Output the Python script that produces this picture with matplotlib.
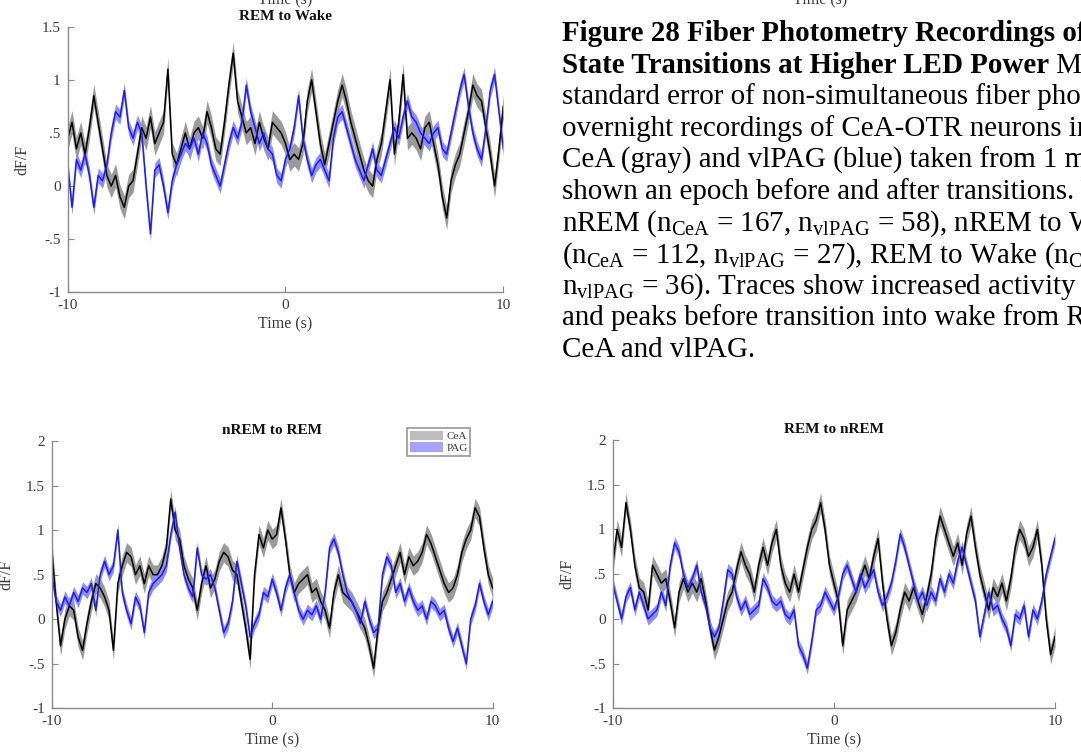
import matplotlib
matplotlib.use("Agg")
import matplotlib.pyplot as plt
import numpy as np
from matplotlib.patches import Patch
from matplotlib.text import Annotation

plt.rcParams['font.family'] = ['Liberation Serif', 'DejaVu Serif']
plt.rcParams['mathtext.fontset'] = 'custom'
plt.rcParams['mathtext.rm'] = 'Liberation Serif'

# time axis of the traces (s), one sample every 0.2 s
time_s = np.linspace(-10, 10, 101)

# REM to Wake
rem_wake_cea = [0.45, 0.6, 0.35, 0.5, 0.3, 0.55, 0.85, 0.6, 0.35, 0.1,
                0.0, 0.1, -0.1, -0.2, 0.0, 0.05, 0.3, 0.55, 0.45, 0.65,
                0.4, 0.5, 0.6, 1.1, 0.3, 0.2, 0.35, 0.5, 0.35, 0.5,
                0.55, 0.45, 0.7, 0.55, 0.35, 0.3, 0.6, 0.95, 1.25, 0.8,
                0.65, 0.5, 0.55, 0.4, 0.6, 0.45, 0.35, 0.6, 0.55, 0.5,
                0.4, 0.25, 0.3, 0.25, 0.4, 0.8, 1.0, 0.7, 0.4, 0.2,
                0.4, 0.6, 0.8, 0.95, 0.8, 0.6, 0.45, 0.3, 0.15, 0.05,
                0.0, 0.25, 0.4, 0.7, 1.0, 0.3, 0.6, 1.05, 0.45, 0.5,
                0.45, 0.35, 0.55, 0.6, 0.4, 0.2, -0.1, -0.3, 0.05, 0.2,
                0.3, 0.5, 0.7, 0.95, 0.85, 0.8, 0.55, 0.3, 0.0, 0.35,
                0.75]
rem_wake_pag = [0.2, -0.2, 0.25, 0.15, 0.3, 0.1, -0.2, 0.1, 0.05, 0.2,
                0.5, 0.7, 0.65, 0.9, 0.55, 0.45, 0.6, 0.5, 0.0, -0.45,
                0.15, 0.2, 0.0, -0.25, 0.05, 0.2, 0.3, 0.4, 0.35, 0.45,
                0.3, 0.5, 0.4, 0.2, 0.1, 0.0, 0.2, 0.4, 0.55, 0.45,
                0.6, 0.95, 0.7, 0.55, 0.4, 0.5, 0.35, 0.3, 0.1, 0.05,
                0.25, 0.35, 0.55, 0.85, 0.45, 0.25, 0.1, 0.2, 0.25, 0.15,
                0.05, 0.45, 0.65, 0.7, 0.55, 0.4, 0.25, 0.15, 0.05, 0.2,
                0.35, 0.15, 0.1, 0.25, 0.4, 0.55, 0.45, 0.65, 0.8, 0.65,
                0.6, 0.5, 0.45, 0.4, 0.5, 0.55, 0.35, 0.3, 0.5, 0.7,
                0.9, 1.05, 0.75, 0.5, 0.35, 0.25, 0.55, 0.9, 1.05, 0.7,
                0.35]

# nREM to REM
nrem_rem_cea = [0.8, 0.2, -0.3, 0.0, 0.15, 0.1, -0.2, -0.35, -0.05, 0.2,
                0.4, 0.35, 0.25, 0.1, -0.35, 0.4, 0.6, 0.75, 0.7, 0.5,
                0.6, 0.4, 0.6, 0.5, 0.5, 0.6, 0.8, 1.35, 1.0, 0.9,
                0.6, 0.45, 0.35, 0.1, 0.4, 0.6, 0.35, 0.45, 0.65, 0.75,
                0.7, 0.55, 0.5, 0.2, -0.1, -0.45, 0.5, 0.95, 0.8, 1.0,
                0.9, 0.95, 1.25, 0.9, 0.5, 0.3, 0.4, 0.45, 0.5, 0.3,
                0.35, 0.2, 0.1, -0.1, 0.3, 0.5, 0.3, 0.25, 0.2, 0.1,
                0.0, -0.1, -0.3, -0.55, -0.1, 0.2, 0.3, 0.45, 0.6, 0.75,
                0.5, 0.7, 0.6, 0.65, 0.75, 0.95, 0.85, 0.7, 0.55, 0.4,
                0.3, 0.35, 0.5, 0.75, 0.9, 1.0, 1.25, 1.15, 0.8, 0.5,
                0.35]
nrem_rem_pag = [0.5, 0.2, 0.1, 0.25, 0.15, 0.3, 0.2, 0.35, 0.3, 0.4,
                0.1, 0.5, 0.65, 0.5, 0.6, 1.0, 0.3, 0.1, -0.05, 0.25,
                0.15, -0.15, 0.3, 0.4, 0.45, 0.5, 0.6, 0.95, 1.2, 0.8,
                0.5, 0.35, 0.25, 0.8, 0.5, 0.45, 0.5, 0.35, 0.1, -0.15,
                -0.05, 0.2, 0.65, 0.4, 0.15, -0.2, -0.05, 0.05, 0.3, 0.25,
                0.45, 0.3, 0.1, 0.35, 0.5, 0.3, 0.1, 0.0, 0.1, 0.05,
                0.15, 0.0, 0.3, 0.8, 0.9, 0.75, 0.5, 0.3, 0.2, 0.1,
                -0.05, 0.2, 0.0, -0.15, -0.1, 0.5, 0.7, 0.6, 0.3, 0.4,
                0.2, 0.35, 0.2, 0.1, 0.15, 0.0, 0.2, 0.15, 0.05, 0.1,
                -0.1, -0.25, -0.1, -0.3, -0.5, 0.0, 0.15, 0.4, 0.2, 0.05,
                0.2]

# REM to nREM
rem_nrem_cea = [0.6, 1.0, 0.8, 1.3, 1.0, 0.6, 0.35, 0.3, 0.1, 0.6,
                0.5, 0.4, 0.45, 0.2, -0.1, 0.3, 0.45, 0.3, 0.4, 0.3,
                0.45, 0.2, -0.1, -0.35, -0.2, 0.0, 0.2, 0.3, 0.55, 0.75,
                0.6, 0.5, 0.3, 0.6, 0.8, 0.6, 0.85, 1.0, 0.6, 0.4,
                0.3, 0.5, 0.3, 0.55, 0.8, 1.0, 1.1, 1.3, 1.0, 0.6,
                0.4, 0.2, -0.3, 0.1, 0.2, 0.3, 0.45, 0.6, 0.45, 0.7,
                0.9, 0.4, 0.0, -0.3, -0.15, 0.1, 0.3, 0.2, 0.35, 0.2,
                0.05, 0.25, 0.5, 0.9, 1.15, 1.0, 0.85, 0.7, 0.85, 0.6,
                0.95, 1.15, 0.8, 0.5, 0.3, 0.1, 0.35, 0.25, 0.4, 0.2,
                0.45, 0.8, 1.0, 0.9, 0.7, 0.8, 1.0, 0.6, 0.0, -0.4,
                -0.2]
rem_nrem_pag = [0.4, 0.2, 0.0, 0.25, 0.35, 0.1, 0.3, 0.15, 0.0, 0.05,
                0.1, 0.3, 0.15, 0.6, 0.85, 0.75, 0.5, 0.35, 0.45, 0.6,
                0.3, 0.15, -0.1, -0.2, -0.1, 0.2, 0.55, 0.5, 0.25, 0.1,
                0.2, 0.05, 0.1, 0.15, 0.45, 0.35, 0.2, 0.15, 0.2, 0.05,
                0.0, 0.1, -0.3, -0.4, -0.55, -0.25, 0.1, 0.15, 0.3, 0.2,
                0.1, 0.25, 0.5, 0.6, 0.45, 0.3, 0.5, 0.35, 0.45, 0.55,
                0.3, 0.15, 0.25, 0.4, 0.65, 0.95, 0.8, 0.6, 0.4, 0.2,
                0.3, 0.15, 0.3, 0.2, 0.45, 0.3, 0.5, 0.4, 0.65, 0.8,
                0.6, 0.4, 0.2, -0.2, 0.05, 0.3, 0.1, 0.15, 0.0, -0.1,
                -0.3, 0.05, 0.0, 0.15, -0.2, 0.1, 0.0, 0.2, 0.5, 0.7,
                0.9]

# half width of the shaded standard error band
cea_sem = 0.11
pag_sem = 0.07

series_labels = ['CeA', 'PAG']

caption_lines = [
    'standard error of non-simultaneous fiber photometry',
    'overnight recordings of CeA-OTR neurons in',
    'CeA (gray) and vlPAG (blue) taken from 1 mouse',
    'shown an epoch before and after transitions. Wake to',
    r'nREM (n$_{\mathrm{CeA}}$ = 167, n$_{\mathrm{vlPAG}}$ = 58), nREM to Wake',
    r'(n$_{\mathrm{CeA}}$ = 112, n$_{\mathrm{vlPAG}}$ = 27), REM to Wake (n$_{\mathrm{CeA}}$',
    r'n$_{\mathrm{vlPAG}}$ = 36). Traces show increased activity in',
    'and peaks before transition into wake from REM in',
    'CeA and vlPAG.',
]

AX_COLOR = '#8a8a8a'
TXT_COLOR = '#3a3a3a'


def plot_transition(ax, title, cea, pag, ylim, yticks, yticklabels):
    cea = np.array(cea)
    pag = np.array(pag)
    ax.fill_between(time_s, cea - cea_sem, cea + cea_sem, color='#9a9a9a', lw=0)
    ax.plot(time_s, cea, color='black', lw=1.1)
    ax.fill_between(time_s, pag - pag_sem, pag + pag_sem, color='#8c8cff', lw=0)
    ax.plot(time_s, pag, color='#1e1ee6', lw=1.1)

    ax.set_xlim(-10, 10)
    ax.set_ylim(*ylim)
    ax.set_xticks([-10, 0, 10])
    ax.set_xticklabels(['-10', '0', '10'])
    ax.set_yticks(yticks)
    ax.set_yticklabels(yticklabels)
    for s in ['top', 'right']:
        ax.spines[s].set_visible(False)
    for s in ['left', 'bottom']:
        ax.spines[s].set_color(AX_COLOR)
        ax.spines[s].set_linewidth(1.0)
    ax.tick_params(direction='in', length=4, color=AX_COLOR, labelcolor=TXT_COLOR,
                   labelsize=11, pad=5)
    ax.set_xlabel('Time (s)', fontsize=11.5, color=TXT_COLOR, labelpad=3)
    ax.set_ylabel('dF/F', fontsize=11.5, color=TXT_COLOR, labelpad=8)
    ax.set_title(title, fontsize=11, fontweight='bold', color='#111111', pad=5)


fig = plt.figure(figsize=(10.81, 7.54), dpi=100)

ax1 = fig.add_axes([0.0626, 0.6123, 0.403, 0.3523])
plot_transition(ax1, 'REM to Wake', rem_wake_cea, rem_wake_pag, (-1, 1.5),
                [-1, -0.5, 0, 0.5, 1, 1.5], ['-1', '-.5', '0', '.5', '1', '1.5'])

ax2 = fig.add_axes([0.0478, 0.0606, 0.408, 0.3545])
plot_transition(ax2, 'nREM to REM', nrem_rem_cea, nrem_rem_pag, (-1, 2),
                [-1, -0.5, 0, 0.5, 1, 1.5, 2], ['-1', '-.5', '0', '.5', '1', '1.5', '2'])

ax3 = fig.add_axes([0.5668, 0.0606, 0.4092, 0.3558])
plot_transition(ax3, 'REM to nREM', rem_nrem_cea, rem_nrem_pag, (-1, 2),
                [-1, -0.5, 0, 0.5, 1, 1.5, 2], ['-1', '-.5', '0', '.5', '1', '1.5', '2'])

handles = [Patch(facecolor='#bdbdbd', edgecolor='none'),
           Patch(facecolor='#a4a4ff', edgecolor='none')]
leg = ax2.legend(handles, series_labels, loc='upper left',
                 bbox_to_anchor=(407 / 1081, 1 - 428 / 754), bbox_transform=fig.transFigure,
                 fontsize=8, fancybox=False, framealpha=1, handlelength=3.0,
                 handleheight=0.9, handletextpad=0.3, labelspacing=0.1,
                 borderpad=0.25, borderaxespad=0)
leg.get_frame().set_edgecolor('#a0a0a0')
leg.get_frame().set_linewidth(1.3)
for t in leg.get_texts():
    t.set_color(TXT_COLOR)

# x labels of the plots above, cut by the page edge
fig.text(285 / 1081, 1.0, 'Time (s)', ha='center', va='center', fontsize=11.5, color=TXT_COLOR)
fig.text(820 / 1081, 1.0, 'Time (s)', ha='center', va='center', fontsize=11.5, color=TXT_COLOR)

# caption (runs past the right edge of the page, as in the scan)
x0 = 562 / 1081
fs = 20.9
base = 41
step = 31.6
fig.text(x0, 1 - base / 754, 'Figure 28 Fiber Photometry Recordings of Sleep',
         fontsize=fs, fontweight='bold', va='baseline')
bold2 = fig.text(x0, 1 - (base + step) / 754, 'State Transitions at Higher LED Power',
                 fontsize=fs, fontweight='bold', va='baseline')
fig.add_artist(Annotation(' Mean and', xy=(1, 0), xycoords=bold2,
                          ha='left', va='bottom', fontsize=fs))
for i, line in enumerate(caption_lines):
    fig.text(x0, 1 - (base + step * (i + 2)) / 754, line, fontsize=fs, va='baseline')

fig.savefig('out.png', dpi=100)
